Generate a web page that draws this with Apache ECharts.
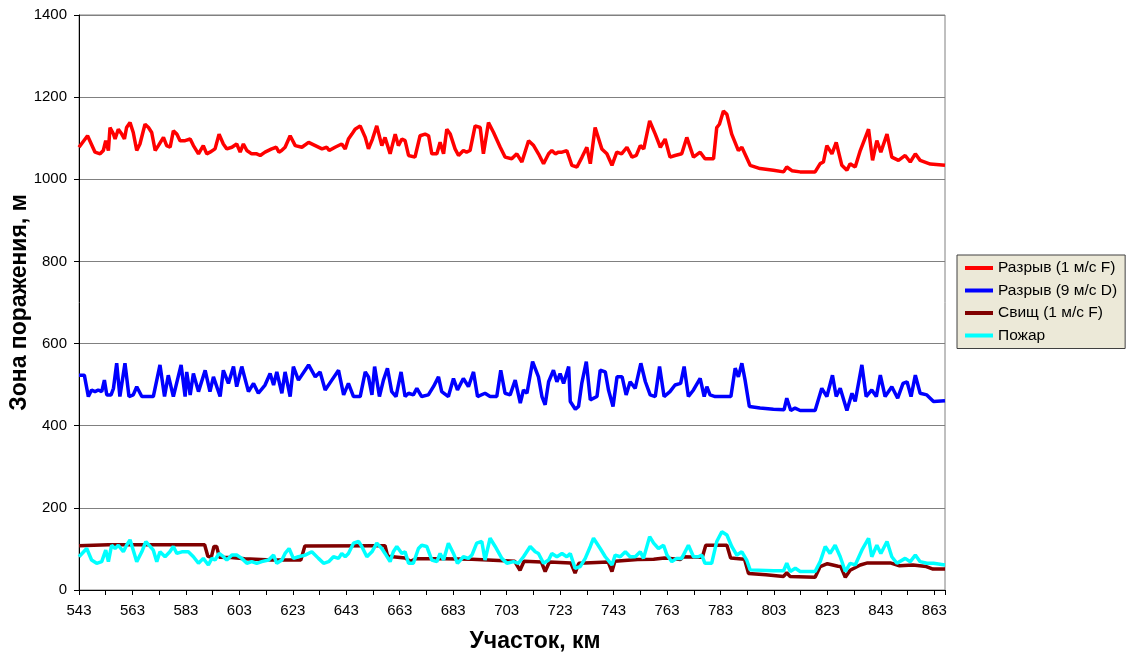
<!DOCTYPE html>
<html>
<head>
<meta charset="utf-8">
<script src="https://cdn.jsdelivr.net/npm/echarts@6/dist/echarts.min.js"></script>
<style>
  html, body { margin: 0; padding: 0; background: #fff; }
  #chart { width: 1128px; height: 659px; }
</style>
</head>
<body>
<div id="chart"></div>
<script>
// Зона поражения по участкам трубопровода — vertices read off the reference
// chart (km, m). Each series keeps its own km list, since the spikes fall
// at different places.

const FONT = 'Arial, "Liberation Sans", sans-serif';

// ── Разрыв (1 м/с F) ─────────────────────────────────────────────────────
const redKm = [543, 546.2, 549, 550.9, 552.1, 553, 554, 554.6, 555.9, 556.5, 557.7, 559, 560, 560.8,
  562.1, 563.3, 564.6, 565.8, 567.7, 569, 570.2, 571.5, 572.7, 574.6, 575.8, 577.1, 578.3, 579.6,
  580.8, 582.7, 584.6, 585.8, 587.7, 589.5, 590.8, 592, 593.9, 595.4, 597, 598.3, 600.2, 602, 603.3,
  604.5, 605.8, 607.6, 609.5, 610.8, 612.6, 615.1, 616.8, 617.8, 618.8, 620.1, 622, 623.9, 626.4,
  628.9, 631.4, 633.9, 635.7, 636.6, 638.8, 641.3, 642.6, 643.8, 645.1, 646.3, 648.2, 650.1, 651.3,
  652.8, 654.4, 656.3, 657.5, 659.4, 661.3, 662.5, 663.8, 665, 666.3, 668.7, 670.6, 672.5, 673.8,
  675, 676.9, 678.1, 679.4, 680.6, 681.9, 683.7, 685, 686.8, 688, 689.3, 691.2, 693.1, 694.3, 696.2,
  698.1, 700.6, 702.4, 704.9, 706.8, 708.7, 711.2, 713.1, 714.9, 716.8, 718.7, 719.9, 721.2, 722.4,
  723.7, 725.5, 727.4, 729.3, 731.2, 733, 734.3, 736.1, 738.6, 740.5, 742.4, 744.2, 746, 748, 749.9,
  751.5, 753, 754.3, 756.5, 758.6, 760.5, 762.3, 764.1, 766, 768.5, 770.4, 772.9, 775.4, 777.2,
  780.4, 781.6, 782.6, 784.1, 785.4, 787.2, 789.7, 791, 794.1, 797.8, 802.8, 806.6, 807.8, 809.7,
  812.8, 818.4, 820.3, 821.5, 822.8, 824.7, 826.3, 828.4, 830.3, 831.5, 833.4, 835.3, 838.4, 839.9,
  841.5, 843, 845.3, 847.1, 849.6, 852.1, 854, 855.9, 857.7, 861.5, 867];
const redVal = [1078, 1106, 1066, 1062, 1070, 1094, 1070, 1126, 1110, 1098, 1122, 1110, 1098, 1126,
  1138, 1114, 1070, 1086, 1134, 1126, 1114, 1070, 1082, 1102, 1082, 1078, 1118, 1110,
  1094, 1094, 1098, 1082, 1062, 1082, 1062, 1066, 1074, 1110, 1086, 1074, 1078, 1086, 1066,
  1086, 1070, 1062, 1062, 1058, 1066, 1074, 1078, 1066, 1070, 1078, 1106, 1082, 1078,
  1090, 1082, 1074, 1078, 1070, 1078, 1086, 1074, 1098, 1110, 1122, 1130, 1102, 1074,
  1098, 1130, 1082, 1102, 1062, 1110, 1082, 1098, 1094, 1058, 1054, 1106, 1110, 1106,
  1062, 1062, 1090, 1062, 1122, 1110, 1074, 1058, 1070, 1066, 1070, 1130, 1126, 1062, 1138,
  1114, 1078, 1054, 1050, 1062, 1042, 1094, 1082, 1062, 1038, 1062, 1070, 1062, 1066,
  1066, 1070, 1034, 1030, 1054, 1078, 1038, 1126, 1074, 1062, 1034, 1066, 1062, 1078, 1054,
  1058, 1082, 1074, 1142, 1110, 1078, 1098, 1054, 1058, 1062, 1102, 1054, 1066, 1050,
  1050, 1126, 1134, 1166, 1158, 1110, 1070, 1078, 1034, 1026, 1022, 1018, 1030, 1021,
  1018, 1018, 1038, 1042, 1082, 1062, 1090, 1034, 1022, 1038, 1030, 1070, 1122, 1046,
  1094, 1066, 1110, 1054, 1046, 1058, 1042, 1062, 1046, 1037, 1034];

// ── Разрыв (9 м/с D) ─────────────────────────────────────────────────────
const blueKm = [543, 545, 546.5, 547.7, 549, 550.2, 551.5, 552.5, 553.4, 555, 555.9, 557.1, 558.3,
  560.2, 561.7, 563.3, 564.6, 566.5, 570.8, 573.3, 575, 576.4, 578.3, 581.2, 582.7, 583.3, 584.6,
  585.8, 587.7, 590.2, 592, 593.3, 595.8, 597, 598.9, 600.8, 602, 603.9, 606.4, 608.3, 610.1, 612.6,
  614.5, 615.8, 617, 618.9, 620.1, 622, 623.2, 625.1, 628.9, 631.4, 633.2, 635.1, 637.6, 640.1, 642,
  643.8, 645.7, 648.2, 650.1, 651.3, 652.6, 653.6, 655.4, 656.9, 658.4, 660, 661.6, 663.5, 665,
  666.3, 668.1, 669.4, 671.2, 673.7, 675.6, 677.5, 678.7, 681.2, 683.1, 684.6, 686.8, 688.7, 690.6,
  692.1, 694.9, 696.8, 699.3, 700.8, 702.4, 704.3, 706.2, 708.1, 709.3, 710.6, 712.7, 714.9, 716.2,
  717.4, 718.7, 720.5, 721.8, 723, 724.3, 726.2, 726.8, 728.7, 729.9, 731.1, 732.8, 734.3, 736.8,
  738, 739.9, 741.1, 742.8, 744.3, 746.2, 747.7, 749.2, 751.1, 753.2, 754.9, 756.7, 758.6, 760.2,
  761.9, 764.1, 766, 768.1, 769.4, 771, 772.9, 775.4, 776.9, 777.9, 779.1, 781, 786.9, 788.5, 789.7,
  791, 792.2, 793.8, 797.8, 802.8, 806.8, 807.8, 809.3, 810.9, 812.8, 818.4, 820.9, 822.8, 824.9,
  826.3, 827.8, 830.3, 832.2, 833.4, 835.9, 837.5, 839.6, 841.3, 842.8, 844.6, 847.1, 849.3, 851.3,
  852.8, 854.3, 855.9, 857.7, 860.2, 862.7, 867];
const blueVal = [523, 523, 471, 487, 483, 487, 483, 511, 475, 475, 491, 552, 471,
  552, 471, 475, 495, 471, 471, 548, 471, 523, 471, 548, 471, 531, 475,
  527, 483, 535, 483, 519, 471, 535, 503, 544, 495, 544, 483, 503, 479, 499,
  527, 499, 531, 479, 531, 471, 544, 511, 548, 519, 531, 487, 511, 535, 475,
  503, 471, 471, 531, 519, 475, 544, 471, 511, 540, 483, 471, 531, 471,
  479, 475, 491, 471, 475, 495, 519, 483, 471, 515, 487, 515, 495, 531,
  471, 479, 471, 471, 535, 479, 475, 511, 455, 487, 479, 556, 519, 471,
  451, 507, 535, 507, 527, 503, 544, 459, 440, 447, 503, 556, 463, 471,
  535, 531, 487, 447, 519, 519, 475, 507, 491, 552, 507, 475, 471, 544,
  471, 483, 499, 503, 544, 471, 487, 515, 471, 495, 475, 471, 471, 540, 519,
  552, 511, 447, 443, 440, 439, 467, 437, 443, 437, 437, 491, 471, 523,
  471, 491, 437, 479, 459, 548, 471, 487, 471, 523, 471, 495, 467, 503,
  507, 471, 523, 479, 475, 459, 461];

// ── Свищ (1 м/с F) ───────────────────────────────────────────────────────
const brownKm = [543, 554, 590, 591.2, 592.5, 593.5, 594.5, 595.5, 600, 605, 615, 626, 627.5, 655,
  657.5, 658.5, 665, 667, 669, 680, 690, 700, 706, 708, 709.5, 716, 717.4, 719, 727, 728.6, 730,
  741, 742.4, 743.5, 752, 758, 762, 764, 768, 769, 775, 776.2, 777.5, 785.4, 786.8, 792, 793.5, 800,
  806.6, 807.8, 809, 818.4, 820.3, 823, 827, 828, 829.7, 831.5, 835.3, 838, 846.5, 850, 855, 860,
  862.5, 867];
const brownVal = [108, 110, 110, 82, 80, 106, 106, 80, 79, 76, 73, 73, 107, 108,
  108, 82, 78, 70, 76, 76, 75, 72, 70, 48, 70, 68, 45, 68, 66, 41, 65,
  68, 45, 70, 74, 75, 78, 77, 74, 81, 80, 80, 109, 109, 78, 75, 40, 37,
  33, 42, 33, 31, 57, 64, 58, 57, 31, 48, 61, 66, 66, 59, 61, 57,
  51, 51];

// ── Пожар ────────────────────────────────────────────────────────────────
const cyanKm = [543, 545.9, 547.7, 549.6, 551.5, 553, 554, 555.2, 556.5, 557.7, 559.6, 560.8, 562.1,
  563.3, 564.6, 566.5, 568, 569.6, 570.8, 572.1, 573.3, 575.2, 577, 578.3, 579.6, 581.5, 583.9, 585.8,
  587.7, 589.5, 591.4, 592.7, 593.9, 595.4, 597, 598.3, 600.2, 602, 603.9, 605.8, 607.6, 609.5, 611.4,
  613.9, 615.8, 617, 618.9, 620.1, 621.6, 623.2, 625.1, 627.6, 630.1, 632.6, 634.5, 636.4, 638.2,
  640.1, 641.3, 642.6, 643.8, 645.7, 647.6, 648.8, 650.7, 652.6, 654.4, 656.3, 657.5, 659.4, 660.6,
  661.9, 663.8, 665, 666.3, 668.1, 670, 671.2, 673.1, 675, 676.9, 678.1, 679.4, 681.2, 683.1, 684.6,
  686.8, 688.7, 690, 691.8, 693.7, 694.9, 696.8, 698.7, 701.2, 703.1, 705.6, 707.4, 709.3, 711.8,
  713.7, 714.9, 716.8, 718.7, 719.9, 721.8, 723.7, 725.5, 726.8, 728.6, 730.5, 732.4, 734.3, 735.5,
  738, 739.9, 742.4, 743.6, 745.5, 747.4, 749.2, 751.1, 753, 754.2, 756.5, 758, 759.8, 761.7, 763,
  764.8, 766.6, 768.5, 771, 772.9, 774.7, 776, 777.2, 779.7, 781.6, 783.5, 785.4, 787.2, 789.1, 791,
  792.8, 794.1, 802.8, 806.6, 807.8, 809.1, 811, 812.8, 818.4, 820.3, 822.2, 824, 825.9, 827.8,
  829.7, 831.5, 833.4, 835.9, 838.4, 839.6, 841.5, 843, 845.3, 847.1, 849, 852.1, 854, 855.9, 857.7,
  860.2, 862.7, 867];
const cyanVal = [81, 101, 73, 65, 69, 97, 69, 109, 101, 109, 93, 109, 122,
  97, 69, 93, 118, 106, 97, 69, 93, 81, 93, 106, 89, 93, 93, 81,
  65, 77, 61, 77, 73, 89, 81, 73, 85, 85, 77, 65, 69, 65, 69,
  73, 85, 65, 73, 89, 101, 77, 81, 85, 93, 77, 65, 69, 81,
  77, 89, 81, 89, 114, 118, 106, 81, 93, 114, 101, 89, 69, 93,
  106, 89, 93, 65, 65, 101, 109, 106, 73, 69, 89, 73, 114, 89, 65,
  81, 77, 85, 114, 118, 73, 126, 106, 77, 65, 69, 65, 81, 106,
  93, 89, 65, 73, 89, 81, 89, 81, 89, 53, 57, 77, 106, 126,
  101, 81, 61, 85, 81, 93, 81, 81, 93, 77, 130, 114, 101, 109, 85,
  69, 77, 77, 109, 81, 81, 85, 65, 65, 118, 142, 134, 106, 85, 93,
  73, 49, 47, 47, 65, 45, 53, 45, 45, 69, 106, 89, 109, 81,
  45, 65, 61, 97, 126, 81, 109, 89, 118, 81, 65, 77, 69, 85, 69,
  65, 65, 61];

const xTicks = { min: 543, max: 867, step: 10, labelStep: 20 };
const yTicks = { min: 0, max: 1400, step: 200 };

const zip = (xs, ys) => xs.map((x, i) => [x, ys[i]]);

const SERIES = [
  { name: 'Разрыв (1 м/с F)', color: '#FF0000', data: zip(redKm, redVal) },
  { name: 'Разрыв (9 м/с D)', color: '#0000FF', data: zip(blueKm, blueVal) },
  { name: 'Свищ (1 м/с F)', color: '#800000', data: zip(brownKm, brownVal) },
  { name: 'Пожар', color: '#00FFFF', data: zip(cyanKm, cyanVal) },
];

const TITLE_STYLE = { fontFamily: FONT, fontSize: 23, fontWeight: 'bold', color: '#000' };

const chart = echarts.init(document.getElementById('chart'));
chart.setOption({
  animation: false,
  textStyle: { fontFamily: FONT },
  grid: {
    left: 79, right: 183, top: 15, bottom: 69,
    outerBoundsMode: 'none', containLabel: false,
    show: true, borderColor: '#808080', borderWidth: 1,
  },
  legend: {
    orient: 'vertical', left: 957, top: 255,
    padding: [5, 8], itemGap: 6.5, itemWidth: 28, itemHeight: 4,
    icon: 'rect',
    backgroundColor: '#ECE9D8', borderColor: '#404040', borderWidth: 1,
    textStyle: { fontFamily: FONT, fontSize: 15.5, color: '#000' },
    data: SERIES.map(s => s.name),
  },
  xAxis: {
    type: 'value', min: xTicks.min, max: xTicks.max, interval: xTicks.step,
    name: 'Участок, км', nameLocation: 'middle', nameGap: 40, nameMoveOverlap: false,
    nameTextStyle: { ...TITLE_STYLE, padding: [0, 0, 0, 46] },
    axisLine: { lineStyle: { color: '#000', width: 1 } },
    axisTick: { show: true, length: 5, lineStyle: { color: '#000' } },
    axisLabel: {
      fontFamily: FONT, fontSize: 15, color: '#000', margin: 13,
      formatter: v => ((v - xTicks.min) % xTicks.labelStep === 0 && v < xTicks.max) ? String(v) : '',
    },
    splitLine: { show: false },
  },
  yAxis: {
    type: 'value', min: yTicks.min, max: yTicks.max, interval: yTicks.step,
    name: 'Зона поражения, м', nameLocation: 'middle', nameGap: 48, nameMoveOverlap: false,
    nameTextStyle: TITLE_STYLE,
    axisLine: { show: true, lineStyle: { color: '#000', width: 1 } },
    axisTick: { show: true, length: 5, lineStyle: { color: '#000' } },
    axisLabel: { fontFamily: FONT, fontSize: 15, color: '#000', margin: 12, formatter: v => String(v) },
    splitLine: { show: true, lineStyle: { color: '#808080', width: 1 } },
  },
  series: SERIES.map(s => ({
    name: s.name, type: 'line', data: s.data,
    showSymbol: false, symbol: 'none',
    lineStyle: { color: s.color, width: 3.5 },
    itemStyle: { color: s.color },
  })),
});
</script>
</body>
</html>
